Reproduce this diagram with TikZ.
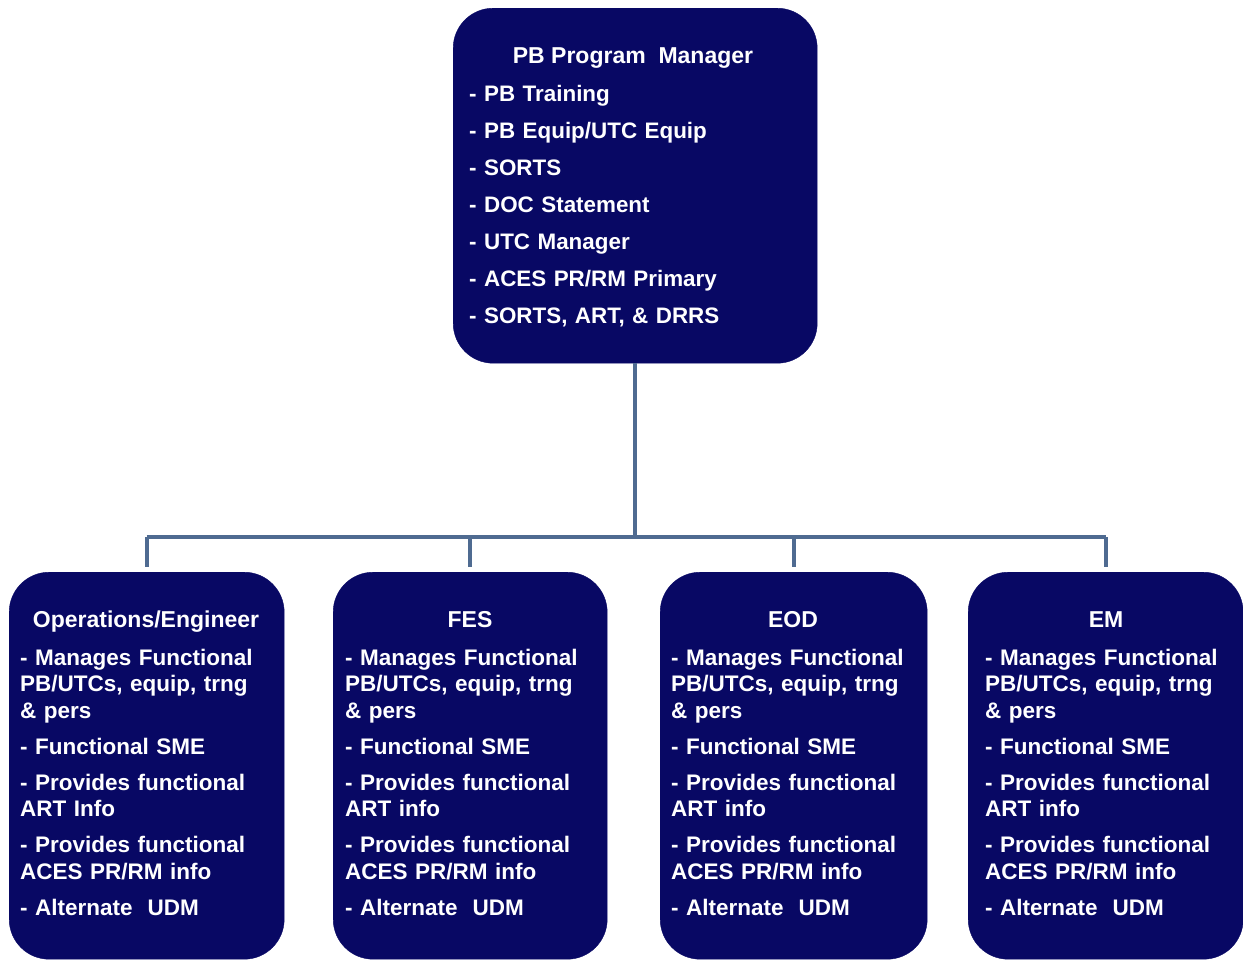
\documentclass[tikz,border=0pt]{standalone}
\usepackage{fontspec}
\setmainfont{Liberation Sans}
\definecolor{navy}{RGB}{8,8,100}
\definecolor{linkblue}{RGB}{79,107,145}
\begin{document}
\begin{tikzpicture}[x=1pt,y=-1pt,
 box/.style={draw=navy, fill=navy, rounded corners=40pt, inner sep=0pt, anchor=north west},
 boxtitle/.style={text=white, font=\bfseries\fontsize{23}{26}\selectfont, anchor=base, inner sep=0pt},
 topbody/.style={text=white, font=\bfseries\fontsize{22.4}{37}\selectfont, anchor=base west, inner sep=0pt, align=left, text width=330pt},
 body/.style={text=white, font=\bfseries\fontsize{22.5}{26.5}\selectfont, anchor=base west, inner sep=0pt, align=left, text width=250pt},
 link/.style={draw=linkblue, line width=4pt}]
\path[use as bounding box] (0,0) rectangle (1243,961);
% boxes
\node[box, minimum width=364pt, minimum height=355pt] (top) at (453,8) {};
\node[box, minimum width=275pt, minimum height=387pt] (b1) at (9,572) {};
\node[box, minimum width=274pt, minimum height=387pt] (b2) at (333,572) {};
\node[box, minimum width=267pt, minimum height=387pt] (b3) at (660,572) {};
\node[box, minimum width=275pt, minimum height=387pt] (b4) at (968,572) {};
% connectors
\coordinate (j) at (635,537);
\draw[link] (top.south) -- (top.south |- j);
\draw[link] (b1.north |- j) -- (b4.north |- j);
\foreach \b in {b1,b2,b3,b4}{
  \draw[link, shorten >=5pt] (\b.north |- j) -- (\b.north);
}
% top text
\node[boxtitle] (toptitle) at (633,63) {PB Program\ \ Manager};
\node[topbody] (toptext) at (469,101) {- PB Training\\- PB Equip/UTC Equip\\- SORTS\\- DOC Statement\\- UTC Manager\\- ACES PR/RM Primary\\- SORTS, ART, \& DRRS};
% bottom texts
\node[boxtitle] (t1) at (146,627) {Operations/Engineer};
\node[boxtitle] (t2) at (470,627) {FES};
\node[boxtitle] (t3) at (793,627) {EOD};
\node[boxtitle] (t4) at (1106,627) {EM};
\node[body] (x1) at (20,665) {- Manages Functional\\PB/UTCs, equip, trng\\\& pers\\[9.5pt]- Functional SME\\[9.5pt]- Provides functional\\ART Info\\[9.5pt]- Provides functional\\ACES PR/RM info\\[9.5pt]- Alternate\ \ UDM};
\node[body] (x2) at (345,665) {- Manages Functional\\PB/UTCs, equip, trng\\\& pers\\[9.5pt]- Functional SME\\[9.5pt]- Provides functional\\ART info\\[9.5pt]- Provides functional\\ACES PR/RM info\\[9.5pt]- Alternate\ \ UDM};
\node[body] (x3) at (671,665) {- Manages Functional\\PB/UTCs, equip, trng\\\& pers\\[9.5pt]- Functional SME\\[9.5pt]- Provides functional\\ART info\\[9.5pt]- Provides functional\\ACES PR/RM info\\[9.5pt]- Alternate\ \ UDM};
\node[body] (x4) at (985,665) {- Manages Functional\\PB/UTCs, equip, trng\\\& pers\\[9.5pt]- Functional SME\\[9.5pt]- Provides functional\\ART info\\[9.5pt]- Provides functional\\ACES PR/RM info\\[9.5pt]- Alternate\ \ UDM};
\end{tikzpicture}
\end{document}
